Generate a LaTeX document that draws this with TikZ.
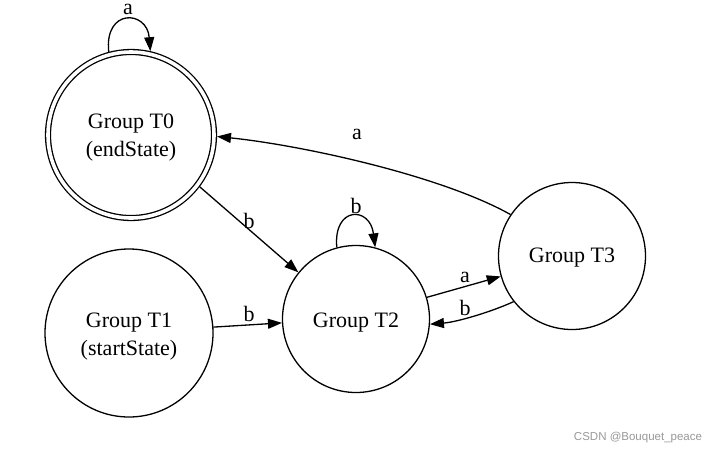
\documentclass[tikz,border=0pt]{standalone}
\usepackage{fontspec}
\setmainfont{Liberation Serif}
\newfontfamily\wmfont{Liberation Sans}
\usetikzlibrary{arrows.meta}
\begin{document}
\begin{tikzpicture}[x=1pt,y=-1pt,
  st/.style={draw, circle, line width=1.3pt, inner sep=0pt},
  txt/.style={inner sep=0pt, align=center, font=\fontsize{22}{28}\selectfont},
  lbl/.style={inner sep=0pt, font=\fontsize{22}{26}\selectfont},
  edge/.style={line width=1.3pt, -{Triangle[length=14pt,width=10pt]}}]
\useasboundingbox (0,0) rectangle (724,451);
\fill[white] (0,0) rectangle (724,451);
\node[st, double, double distance=3.6pt, minimum size=166pt, outer sep=3pt] (T0) at (131,135) {};
\node[st, minimum size=168pt] (T1) at (129,333) {};
\node[st, minimum size=147pt] (T2) at (356,319) {};
\node[st, minimum size=147pt] (T3) at (572,256) {};
\node[txt] (t0) at (131,137.5) {Group T0\\(endState)};
\node[txt] (t1) at (129,336.5) {Group T1\\(startState)};
\node[txt] (t2) at (356,322.5) {Group T2};
\node[txt] (t3) at (572,258) {Group T3};
\draw[edge] (T0.-37.5) -- (T2.141);
\draw[edge] (T1.4) -- (T2.183);
\draw[edge] (T2.17) -- (T3.196);
\draw[edge] (T3.218) .. controls (491,312) and (457,322) .. (T2.-4);
\draw[edge] (T3.146) .. controls (440,175) and (300,145) .. (T0.-1);
\draw[edge] (T0.105) .. controls (104,8) and (147,10) .. (T0.77);
\draw[edge] (T2.105) .. controls (333,206) and (370,206) .. (T2.75);
\node[lbl] (l1) at (128,9) {a};
\node[lbl] (l2) at (356,206) {b};
\node[lbl] (l3) at (357,134) {a};
\node[lbl] (l4) at (249,221) {b};
\node[lbl] (l5) at (249,314) {b};
\node[lbl] (l6) at (465,277) {a};
\node[lbl] (l7) at (465,308) {b};
\node[font=\wmfont\fontsize{11.5}{13}\selectfont, text=black!40] (wm) at (638,438) {CSDN @Bouquet\_peace};
\end{tikzpicture}
\end{document}
